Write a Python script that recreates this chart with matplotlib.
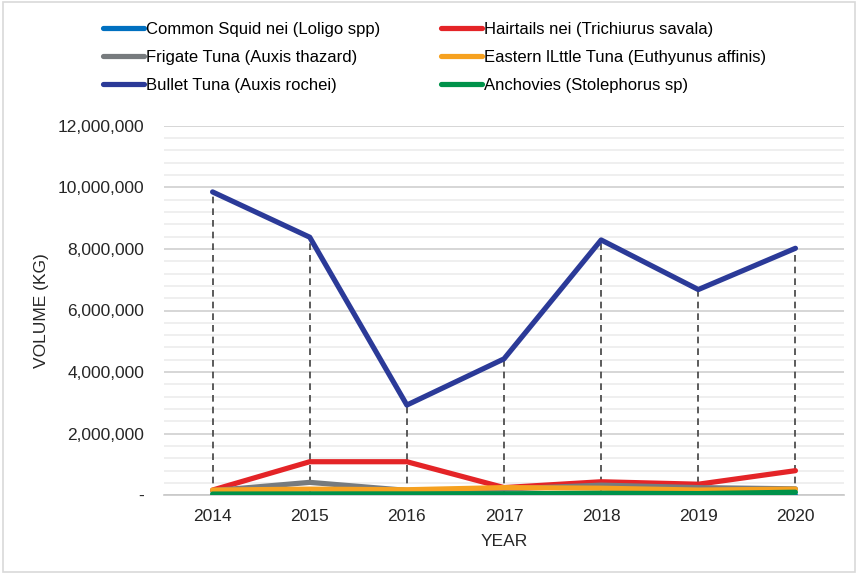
import numpy as np
import matplotlib
matplotlib.use('Agg')
import matplotlib.pyplot as plt
from matplotlib.ticker import FuncFormatter, MultipleLocator

plt.rcParams['font.family'] = ['Liberation Sans', 'DejaVu Sans']

# data (volume in kg)
years = ['2014', '2015', '2016', '2017', '2018', '2019', '2020']
common_squid = [20000, 20000, 20000, 20000, 20000, 20000, 20000]
hairtails = [170000, 1090000, 1090000, 250000, 440000, 360000, 800000]
frigate_tuna = [150000, 420000, 160000, 200000, 330000, 250000, 210000]
eastern_little_tuna = [170000, 200000, 180000, 250000, 230000, 170000, 200000]
bullet_tuna = [9850000, 8380000, 2930000, 4430000, 8290000, 6680000, 8020000]
anchovies = [40000, 45000, 45000, 50000, 65000, 55000, 100000]

series = [
    ('Common Squid nei (Loligo spp)', common_squid, '#0070C0'),
    ('Hairtails nei (Trichiurus savala)', hairtails, '#E42427'),
    ('Frigate Tuna (Auxis thazard)', frigate_tuna, '#777B7E'),
    ('Eastern lLttle Tuna (Euthyunus affinis)', eastern_little_tuna, '#F6A11F'),
    ('Bullet Tuna (Auxis rochei)', bullet_tuna, '#2B3A98'),
    ('Anchovies (Stolephorus sp)', anchovies, '#00924A'),
]

fig = plt.figure(figsize=(8.58, 5.74), dpi=100)
ax = fig.add_axes([164/858, 1 - 495.3/574, 680/858, (495.3 - 125.7)/574])

x = np.arange(len(years))

# drop lines from the top value of each year down to zero
tops = np.max([s[1] for s in series], axis=0)
ax.vlines(x, 0, tops, colors='#404040', linestyles=(0, (4, 3)), lw=1.2, zorder=2)

handles = {}
for name, vals, col in series:
    h, = ax.plot(x, vals, color=col, lw=3.75, solid_capstyle='round', zorder=3)
    handles[name] = h

ax.set_xlim(-0.5, len(years) - 0.5)
ax.set_ylim(0, 12000000)
ax.yaxis.set_major_locator(MultipleLocator(2000000))
ax.yaxis.set_minor_locator(MultipleLocator(400000))
ax.yaxis.set_major_formatter(FuncFormatter(lambda v, p: '-' if v == 0 else f'{int(v):,}'))
ax.set_xticks(x)
ax.set_xticklabels(years)
ax.grid(True, which='major', axis='y', color='#d0d0d0', lw=1.2, zorder=0)
ax.grid(True, which='minor', axis='y', color='#ececec', lw=1.2, zorder=0)
ax.tick_params(axis='both', which='both', length=0, labelsize=12.5, colors='#262626')
ax.tick_params(axis='y', pad=14.4)
ax.tick_params(axis='x', pad=10)
for s in ['top', 'right', 'left']:
    ax.spines[s].set_visible(False)
ax.spines['bottom'].set_color('#c8c8c8')
ax.spines['bottom'].set_linewidth(1.2)
ax.set_axisbelow(True)

ax.set_xlabel('YEAR', fontsize=12.5, color='#262626', labelpad=7)
ax.set_ylabel('VOLUME (KG)', fontsize=12.5, color='#262626', labelpad=6)

order = [series[i][0] for i in [0, 2, 4, 1, 3, 5]]
fig.legend([handles[n] for n in order], order, loc='upper left',
           bbox_to_anchor=(103/858, 1 - 22/574), ncol=2, frameon=False,
           fontsize=12, handlelength=2.46, handletextpad=0.12,
           columnspacing=3.66, labelspacing=0.78, borderpad=0, borderaxespad=0)

# light border around the whole figure
fig.patches.append(plt.Rectangle((0.004, 0.004), 0.992, 0.992, transform=fig.transFigure,
                                 fill=False, edgecolor='#d9d9d9', lw=1.2))

fig.savefig('out.png', dpi=100)
